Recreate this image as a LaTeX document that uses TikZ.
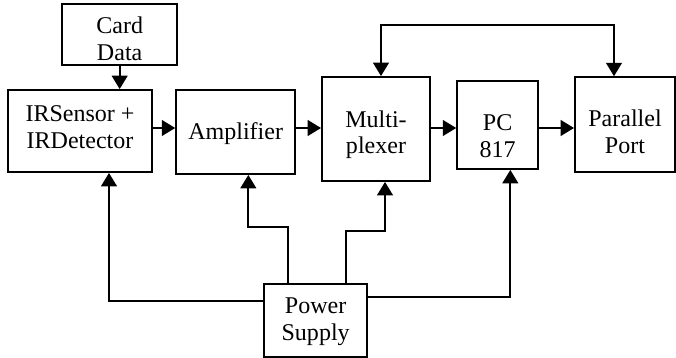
\documentclass[tikz,border=0pt]{standalone}
\usepackage{fontspec}
\setmainfont{Liberation Serif}
\usepackage{tikz}
\usetikzlibrary{arrows.meta,positioning}
% text of a block, lowered by #1 from the block centre
\newcommand{\blocktext}[2]{\raisebox{#1}[0pt][0pt]{\begin{tabular}[b]{@{}c@{}}#2\end{tabular}}}

\begin{document}
\begin{tikzpicture}[
    block/.style={rectangle, draw=black, line width=1.6pt, fill=white,
        font=\fontsize{20.5pt}{23pt}\selectfont, align=center, inner sep=0pt},
    arr/.style={-{Triangle[length=0.4cm, width=0.47cm]}, line width=1.6pt},
    arrboth/.style={{Triangle[length=0.4cm, width=0.47cm]}-{Triangle[length=0.4cm, width=0.47cm]}, line width=1.6pt}
]
    \useasboundingbox (0,0) rectangle (20.28,-10.74);

    % Blocks
    \node[block, minimum width=3.45cm, minimum height=1.83cm] (card) at (3.59,-1.04)
        {\blocktext{-0.78cm}{Card\\Data}};
    \node[block, minimum width=4.32cm, minimum height=2.46cm] (irs) at (2.40,-3.93)
        {\blocktext{-0.53cm}{IRSensor +\\IRDetector}};
    \node[block, minimum width=3.57cm, minimum height=2.52cm] (amp) at (7.07,-3.96)
        {\blocktext{-0.21cm}{Amplifier}};
    \node[block, minimum width=3.24cm, minimum height=3.12cm] (mux) at (11.28,-3.87)
        {\blocktext{-0.75cm}{Multi-\\plexer}};
    \node[block, minimum width=2.43cm, minimum height=2.64cm] (pc) at (14.93,-3.75)
        {\blocktext{-0.98cm}{PC\\817}};
    \node[block, minimum width=3.00cm, minimum height=2.85cm] (par) at (18.75,-3.74)
        {\blocktext{-0.87cm}{Parallel\\Port}};
    \node[block, minimum width=3.09cm, minimum height=2.19cm] (ps) at (9.47,-9.62)
        {\blocktext{-0.60cm}{Power\\Supply}};

    % Signal path
    \draw[arr] (card.south) -- (card.south |- irs.north);
    \draw[arr] (irs.east |- 0,-3.84) -- (amp.west |- 0,-3.84);
    \draw[arr] (amp.east |- 0,-3.84) -- (mux.west |- 0,-3.84);
    \draw[arr] (mux.east |- 0,-3.84) -- (pc.west |- 0,-3.84);
    \draw[arr] (pc.east |- 0,-3.84) -- (par.west |- 0,-3.84);

    % Link between multiplexer and port
    \draw[arrboth] ([xshift=0.15cm]mux.north) -- ++(0,1.53) -| ([xshift=-0.33cm]par.north);

    % Power lines
    \draw[arr] ([yshift=0.59cm]ps.west) -| ([xshift=0.87cm]irs.south);
    \draw[arr] ([xshift=-0.83cm]ps.north) -- ++(0,1.68) -| ([xshift=0.38cm]amp.south);
    \draw[arr] ([xshift=0.92cm]ps.north) -- ++(0,1.56) -| ([xshift=0.27cm]mux.south);
    \draw[arr] ([yshift=0.71cm]ps.east) -| ([xshift=0.38cm]pc.south);
\end{tikzpicture}
\end{document}
